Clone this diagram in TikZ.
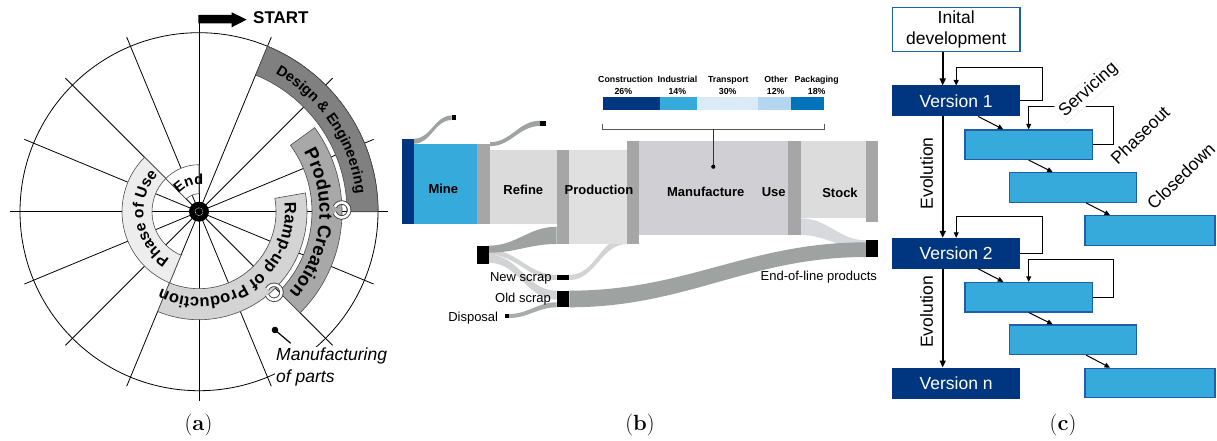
\documentclass[tikz,border=0pt]{standalone}
\usepackage{fontspec}
\setsansfont{Liberation Sans}
\usetikzlibrary{decorations.text,arrows.meta,calc}

\definecolor{navy}{HTML}{003580}
\definecolor{skyb}{HTML}{35AADB}
\definecolor{boxedge}{HTML}{1F5EA8}
\definecolor{paleb}{HTML}{DAEAF6}
\definecolor{softb}{HTML}{B4D6F0}
\definecolor{midb}{HTML}{0073BA}
\definecolor{flowdark}{HTML}{9EA3A2}
\definecolor{flowmid}{HTML}{A9ACAC}
\definecolor{flowlight}{HTML}{D2D3D4}
\definecolor{flowuse}{HTML}{D8D9DC}
\definecolor{barg}{HTML}{A6A6A6}
\definecolor{refg}{HTML}{DBDBDB}
\definecolor{prodg}{HTML}{E0E0E0}
\definecolor{manug}{HTML}{D0D0D4}
\definecolor{stockg}{HTML}{DCDCDC}
\definecolor{deg}{HTML}{808080}
\definecolor{pcg}{HTML}{A8A8A8}
\definecolor{rampg}{HTML}{D4D4D4}
\definecolor{useg}{HTML}{EDEDED}

\pgfdeclarelayer{bg}
\pgfdeclarelayer{flowlayer}
\pgfsetlayers{bg,flowlayer,main}

\newcommand\fsz[1]{\fontsize{#1}{#1}\selectfont}

% annular sector: style, start angle, end angle, inner radius, outer radius
\newcommand\ringpart[5]{%
  \path[#1] (#2:#4) arc[start angle=#2, end angle=#3, radius=#4]
    -- (#3:#5) arc[start angle=#3, end angle=#2, radius=#5] -- cycle;}

% bold text set along a clockwise arc: size, start, end, radius, text
\newcommand\arctext[5]{%
  \path[decorate, decoration={text along path, text align=center,
      text={|\sffamily\bfseries\fsz{#1}|#5}}]
    (#2:#4) arc[start angle=#2, end angle=#3, radius=#4];}

% sankey band: style, left top, right top, right bottom, left bottom
\newcommand\band[5]{%
  \fill[#1] #2 to[out=0,in=180] #3 -- #4 to[out=180,in=0] #5 -- cycle;}

% small circular-arrow marker
\newcommand\turnicon[1]{%
  \draw[black!75, line width=4.4pt] #1 ++(200:7.5) arc[start angle=200, end angle=515, radius=7.5];
  \draw[white, line width=2.6pt] #1 ++(200:7.5) arc[start angle=200, end angle=515, radius=7.5];}

\begin{document}
\begin{tikzpicture}[x=1pt, y=1pt, font=\sffamily,
  spoke/.style={black, line width=0.8pt},
  ringband/.style={draw=black!70, line width=0.6pt},
  blk/.style={inner sep=0pt, outer sep=0pt, anchor=north west},
  lbl/.style={inner sep=0pt, text height=0.72em, text depth=0pt},
  stagelbl/.style={lbl, font=\sffamily\bfseries\fsz{13}},
  flowlbl/.style={lbl, font=\sffamily\fsz{13}, anchor=east},
  chartlbl/.style={lbl, font=\sffamily\bfseries\fsz{8.8}},
  figcap/.style={font=\rmfamily\fsz{22}},
  ver/.style={fill=navy, draw=navy, line width=1pt, text=white, minimum width=127.5, minimum height=30, inner sep=0pt, font=\sffamily\fsz{17.5}},
  sub/.style={fill=skyb, draw=boxedge, line width=1.2pt, minimum height=29.5, inner sep=0pt},
  feed/.style={line width=1pt, -{Triangle[length=5.5pt,width=5pt]}},
  evo/.style={line width=1.6pt, -{Triangle[length=7pt,width=6pt]}},
  ctext/.style={font=\sffamily\fsz{17.5}, inner sep=2pt},
]
\begin{pgfonlayer}{bg}
  \fill[white] (0,0) rectangle (1217,-441);
\end{pgfonlayer}
\useasboundingbox (0,0) rectangle (1217,-441);

% ---------------- (a) product life cycle wheel ----------------
\begin{scope}[shift={(199,-211.7)}]
  \foreach \a in {0,22.5,...,337.5}
    \draw[spoke] (0,0) -- (\a:189);
  \draw[spoke] (0,0) -- (0,196.7);
  \draw[black, line width=0.8pt] (0,0) circle[radius=179];
  \ringpart{ringband, fill=useg}{247.5}{135}{47}{77}
  \ringpart{ringband, fill=white}{135}{90}{18}{47}
  \ringpart{ringband, fill=rampg}{10}{-112.5}{77}{108}
  \ringpart{ringband, fill=pcg}{36}{-45}{113}{143}
  \ringpart{ringband, fill=deg}{67.5}{0}{148}{179}
  \arctext{14.5}{67.5}{0}{158}{Design {\&} Engineering}
  \arctext{18.5}{34}{-46}{120.5}{Product Creation}
  \arctext{16.5}{5}{-115}{86}{Ramp-up of Production}
  \arctext{15.5}{242}{134}{55.5}{Phase of Use}
  \arctext{14.5}{130}{90}{27}{End}
  \fill[black] (0,0) circle[radius=10];
  \draw[white, line width=0.5pt, dash pattern=on 0.8pt off 0.8pt] (0,0) circle[radius=4];
  \turnicon{(142.7,1.7)}
  \turnicon{(75,-80.6)}
\end{scope}

\fill[black] (198.3,-15) -- (231.7,-15) -- (231.7,-12.3) -- (246.7,-19.6)
  -- (231.7,-27.3) -- (231.7,-23.5) -- (198.3,-23.5) -- cycle;
\node[lbl, anchor=west, font=\sffamily\bfseries\fsz{17}] (start) at (253,-20) {START};

\node[anchor=west, align=left, fill=white, inner sep=1pt,
  font=\sffamily\itshape\fontsize{17.5}{21.3}\selectfont] (mfg) at (275,-367) {Manufacturing\\of parts};
\coordinate (pin) at (275,-330);
\fill (pin) circle[radius=3.3];
\draw[line width=1.2pt] (pin) -- ++(15.7,-13.3);

\node[figcap] (capa) at (198.5,-425) {(\textbf{a})};

% ---------------- (b) material flow ----------------
\node[blk, fill=navy, minimum width=11.7, minimum height=85.6] (minebar) at (402.3,-138.7) {};
\node[blk, fill=skyb, minimum width=63.3, minimum height=80.6] (mine) at (414,-143.7) {};
\node[blk, fill=barg, minimum width=12.7, minimum height=80.6] (refbar) at (477.3,-143.7) {};
\node[blk, fill=refg, minimum width=66.7, minimum height=74.3] (refine) at (490,-150) {};
\node[blk, fill=barg, minimum width=12.6, minimum height=94] (prodbar) at (556.7,-150) {};
\node[blk, fill=prodg, minimum width=58, minimum height=94] (prod) at (569.3,-150) {};
\node[blk, fill=barg, minimum width=12, minimum height=103.3] (manbar) at (627.3,-140.7) {};
\node[blk, fill=manug, minimum width=149, minimum height=94.3] (manu) at (639.3,-140.7) {};
\node[blk, fill=barg, minimum width=12.4, minimum height=94.3] (usebar) at (788.3,-140.7) {};
\node[blk, fill=stockg, minimum width=65.3, minimum height=77.6] (stock) at (800.7,-140.7) {};
\node[blk, fill=barg, minimum width=12.3, minimum height=81] (stockbar) at (866,-140.7) {};
\node[blk, fill=black, minimum width=12.3, minimum height=16.7] (eol) at (866,-240.3) {};
\node[blk, fill=black, minimum width=11.4, minimum height=18.3] (recyc) at (477.3,-245.7) {};
\node[blk, fill=black, minimum width=12.6, minimum height=5] (newscrap) at (556.7,-275) {};
\node[blk, fill=black, minimum width=12.6, minimum height=16.6] (oldscrap) at (556.7,-290.7) {};
\node[blk, fill=black, minimum width=4, minimum height=4] (disposal) at (505,-314) {};
\node[blk, fill=black, minimum width=4.3, minimum height=4.5] (tail1) at (451.7,-115.5) {};
\node[blk, fill=black, minimum width=6, minimum height=5.3] (tail2) at (540,-120.7) {};

\begin{pgfonlayer}{flowlayer}
  \band{flowlight}{([yshift=-4pt]recyc.north east)}{(newscrap.north west)}{(newscrap.south west)}{([yshift=-9pt]recyc.north east)}
  \band{flowlight}{([yshift=-9pt]recyc.north east)}{(oldscrap.north west)}{([yshift=-9pt]oldscrap.north west)}{([yshift=-17pt]recyc.north east)}
  \band{flowlight}{(newscrap.north east)}{([yshift=7.3pt]manbar.south west)}{(manbar.south west)}{(newscrap.south east)}
  \band{flowdark}{(recyc.north east)}{([yshift=17.3pt]prodbar.south west)}{(prodbar.south west)}{([yshift=-7pt]recyc.north east)}
  \band{flowmid}{(disposal.north east)}{([yshift=-11.6pt]oldscrap.north west)}{(oldscrap.south west)}{(disposal.south east)}
  \band{flowuse}{([yshift=16.7pt]usebar.south east)}{(eol.north west)}{([yshift=-9pt]eol.north west)}{(usebar.south east)}
  \band{flowdark}{(oldscrap.north east)}{([yshift=-2pt]eol.north west)}{(eol.south west)}{(oldscrap.south east)}
  \band{flowdark}{(minebar.north east)}{(tail1.north west)}{(tail1.south west)}{(mine.north west)}
  \band{flowdark}{([yshift=1.5pt]refbar.north east)}{(tail2.north west)}{(tail2.south west)}{([yshift=-2.5pt]refbar.north east)}
\end{pgfonlayer}

\node[stagelbl] (tmine) at (443.3,-190) {Mine};
\node[stagelbl] (trefine) at (523.3,-190.7) {Refine};
\node[stagelbl] (tprod) at (599,-190.7) {Production};
\node[stagelbl] (tmanu) at (705.8,-193.3) {Manufacture};
\node[stagelbl] (tuse) at (773.7,-193.3) {Use};
\node[stagelbl] (tstock) at (840,-194) {Stock};
\node[flowlbl] (tnew) at (551.7,-278.3) {New scrap};
\node[flowlbl] (told) at (551,-299) {Old scrap};
\node[flowlbl] (tdisp) at (498.3,-318.3) {Disposal};
\node[flowlbl, anchor=center] (teol) at (818.8,-276.7) {End-of-line products};

% end-use breakdown
\node[blk, fill=navy, minimum width=56.7, minimum height=13.3] (scon) at (603.3,-96.7) {};
\node[blk, fill=skyb, minimum width=37.3, minimum height=13.3] (sind) at (660,-96.7) {};
\node[blk, fill=paleb, minimum width=61, minimum height=13.3] (stra) at (697.3,-96.7) {};
\node[blk, fill=softb, minimum width=32.7, minimum height=13.3] (soth) at (758.3,-96.7) {};
\node[blk, fill=midb, minimum width=33, minimum height=13.3] (spac) at (791,-96.7) {};
\node[chartlbl] (lcon) at (625.6,-79.3) {Construction};
\node[chartlbl] (pcon) at (623.3,-90.5) {26\%};
\node[chartlbl] (lind) at (677.5,-79.3) {Industrial};
\node[chartlbl] (pind) at (677.3,-90.5) {14\%};
\node[chartlbl] (ltra) at (728.3,-79.3) {Transport};
\node[chartlbl] (ptra) at (727.7,-90.5) {30\%};
\node[chartlbl] (loth) at (776,-79.3) {Other};
\node[chartlbl] (poth) at (775.7,-90.5) {12\%};
\node[chartlbl] (lpac) at (816.7,-79.3) {Packaging};
\node[chartlbl] (ppac) at (816.7,-90.5) {18\%};
\coordinate (brace) at (713.3,-129.3);
\coordinate (dot) at (713.3,-166.7);
\draw[black!65, line width=0.7pt] (602.8,-124) -- (602.8,-129.3) -- (824.3,-129.3) -- (824.3,-124);
\draw[black!80, line width=0.7pt] (brace) -- (dot);
\fill[black] (dot) circle[radius=2.1];

\node[figcap] (capb) at (640,-425) {(\textbf{b})};

% ---------------- (c) version evolution ----------------
\node[draw=boxedge, line width=1.2pt, fill=white, minimum width=127.5, minimum height=44.4,
  inner sep=0pt, align=center, font=\sffamily\fontsize{17.5}{21.7}\selectfont] (init) at (956.2,-29.5) {Inital\\development};
\node[ver] (v1) at (956.2,-101) {Version 1};
\node[ver] (v2) at (956.2,-253.3) {Version 2};
\node[ver] (vn) at (956.2,-383) {Version n};
\node[sub, minimum width=127.5] (a1) at (1028.7,-144.7) {};
\node[sub, minimum width=127.5] (b1) at (1073,-187.5) {};
\node[sub, minimum width=130] (c1) at (1150,-230.5) {};
\node[sub, minimum width=127.5] (a2) at (1028.7,-297.2) {};
\node[sub, minimum width=127.5] (b2) at (1073,-339.7) {};
\node[sub, minimum width=130] (c2) at (1150,-383) {};

\draw[evo] ([xshift=-13.5pt]init.south) -- ([xshift=-13.5pt]v1.north);
\draw[evo] ([xshift=-13.5pt]v1.south) -- ([xshift=-13.5pt]v2.north);
\draw[evo] ([xshift=-13.5pt]v2.south) -- ([xshift=-13.5pt]vn.north);

\draw[feed] (v1.east) -- ++(22.3,0) |- ([yshift=18.3pt]v1.north) -- (v1.north);
\draw[feed] (v2.east) -- ++(22.3,0) |- ([yshift=21.6pt]v2.north) -- (v2.north);
\draw[feed] (a1.east) -- ++(20,0) |- ([yshift=23.3pt]a1.north) -- (a1.north);
\draw[feed] (a2.east) -- ++(20,0) |- ([yshift=22.7pt]a2.north) -- (a2.north);

\draw[feed] ([xshift=22pt]v1.south) -- ([xshift=-25.4pt]a1.north);
\draw[feed] (a1.south) -- ([xshift=-20.3pt]b1.north);
\draw[feed] ([xshift=13pt]b1.south) -- ([xshift=-40pt]c1.north);
\draw[feed] ([xshift=22pt]v2.south) -- ([xshift=-25.4pt]a2.north);
\draw[feed] (a2.south) -- ([xshift=-20.3pt]b2.north);
\draw[feed] ([xshift=13pt]b2.south) -- ([xshift=-40pt]c2.north);

\node[ctext, fill=white, draw=black!8, line width=0.4pt, rotate=42] (serv) at (1088.5,-90) {Servicing};
\node[ctext, rotate=44] (phase) at (1140,-135) {Phaseout};
\node[ctext, rotate=44] (close) at (1181,-176) {Closedown};
\node[ctext, rotate=90] (evo1) at (926.7,-173.3) {Evolution};
\node[ctext, rotate=90] (evo2) at (926.7,-311.7) {Evolution};

\node[figcap] (capc) at (1063,-425) {(\textbf{c})};
\end{tikzpicture}
\end{document}
